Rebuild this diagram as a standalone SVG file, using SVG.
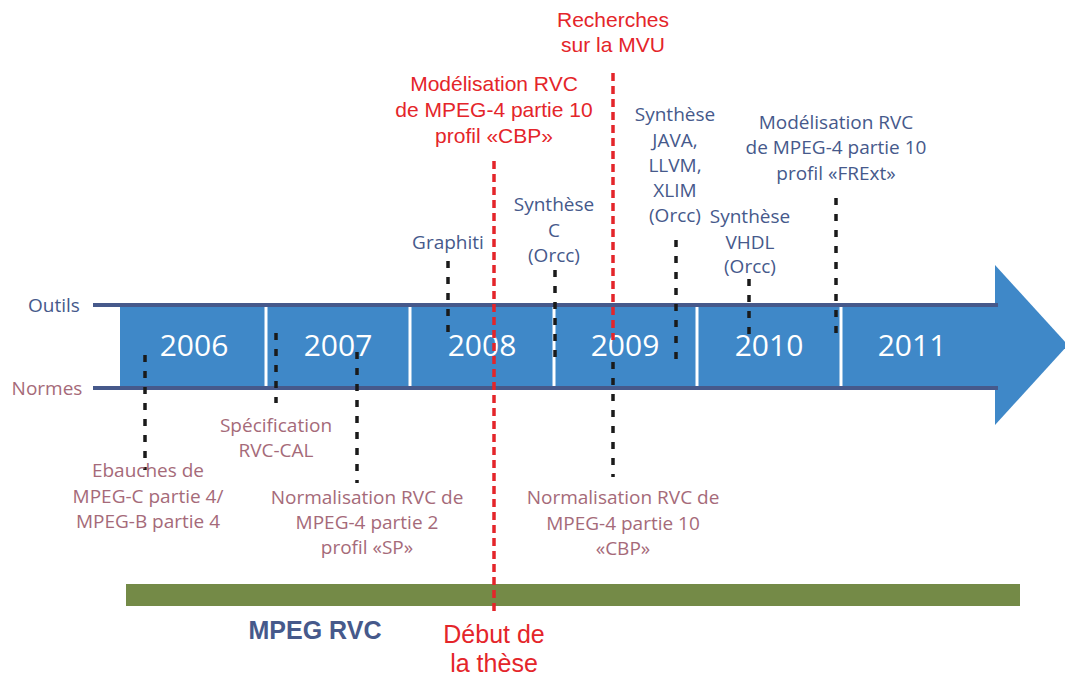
<svg xmlns="http://www.w3.org/2000/svg" width="1065" height="675" viewBox="0 0 1065 675">
<style>
.yr{font-family:"Open Sans",sans-serif;font-size:30px;fill:#fff;text-anchor:middle}
.bl{font-family:"Open Sans",sans-serif;font-size:19px;fill:#46598B;text-anchor:middle}
.mv{font-family:"Open Sans",sans-serif;font-size:19px;fill:#A56A79;text-anchor:middle}
.rd{font-family:"Liberation Sans",Arial,sans-serif;font-size:21px;fill:#E4252A;text-anchor:middle}
.rdb{font-family:"Liberation Sans",Arial,sans-serif;font-size:25px;fill:#E4252A;text-anchor:middle}
.dot{stroke:#1a1a1a;stroke-width:3.5;stroke-dasharray:7 9;fill:none}
.rdl{stroke:#E4252A;stroke-width:3.5;stroke-dasharray:8 5;fill:none}
.sep{stroke:#fff;stroke-width:3}
.axis{stroke:#46598B;stroke-width:4}
</style>
<rect width="1065" height="675" fill="#fff"/>
<g id="timeline">
<rect x="120" y="307" width="878" height="80" fill="#3F88C8"/>
<polygon points="995,265 1068,345 995,425" fill="#3F88C8"/>
<line class="axis" x1="93" y1="305" x2="998" y2="305"/>
<line class="axis" x1="93" y1="388" x2="998" y2="388"/>
<line class="sep" x1="266" y1="307" x2="266" y2="386"/>
<line class="sep" x1="410" y1="307" x2="410" y2="386"/>
<line class="sep" x1="554" y1="307" x2="554" y2="386"/>
<line class="sep" x1="697" y1="307" x2="697" y2="386"/>
<line class="sep" x1="841" y1="307" x2="841" y2="386"/>
<text class="yr" x="194" y="356">2006</text>
<text class="yr" x="338" y="356">2007</text>
<text class="yr" x="482" y="356">2008</text>
<text class="yr" x="625" y="356">2009</text>
<text class="yr" x="769" y="356">2010</text>
<text class="yr" x="912" y="356">2011</text>
</g>
<g id="axis-labels">
<text class="bl" x="54" y="312">Outils</text>
<text class="mv" x="47" y="395">Normes</text>
</g>
<g id="mpeg-rvc-bar">
<rect x="126" y="584" width="894" height="22" fill="#748A47"/>
<text x="315" y="639" font-family="Liberation Sans, Arial, sans-serif" font-weight="bold" font-size="25" fill="#46598B" text-anchor="middle">MPEG RVC</text>
</g>
<g id="connectors">
<line class="dot" x1="145" y1="355" x2="145" y2="470"/>
<line class="dot" x1="276" y1="333" x2="276" y2="403"/>
<line class="dot" x1="357" y1="352" x2="357" y2="483"/>
<line class="dot" x1="448" y1="261" x2="448" y2="338"/>
<line class="dot" x1="555" y1="270" x2="555" y2="358"/>
<line class="dot" x1="676" y1="240" x2="676" y2="364"/>
<line class="dot" x1="749" y1="279" x2="749" y2="338"/>
<line class="dot" x1="836" y1="198" x2="836" y2="342"/>
<line class="dot" x1="613" y1="362" x2="613" y2="477"/>
<line class="rdl" x1="494" y1="161" x2="494" y2="612"/>
<line class="rdl" x1="613" y1="73" x2="613" y2="340"/>
</g>
<g id="recherches-mvu">
<text class="rd" x="613" y="27">Recherches</text>
<text class="rd" x="613" y="52">sur la MVU</text>
</g>
<g id="modelisation-cbp">
<text class="rd" x="494" y="91">Modélisation RVC</text>
<text class="rd" x="494" y="117">de MPEG-4 partie 10</text>
<text class="rd" x="494" y="143">profil «CBP»</text>
</g>
<g id="debut-these">
<text class="rdb" x="494" y="643">Début de</text>
<text class="rdb" x="494" y="672">la thèse</text>
</g>
<g id="graphiti">
<text class="bl" x="448" y="249">Graphiti</text>
</g>
<g id="synthese-c">
<text class="bl" x="554" y="211">Synthèse</text>
<text class="bl" x="554" y="237">C</text>
<text class="bl" x="554" y="262">(Orcc)</text>
</g>
<g id="synthese-java">
<text class="bl" x="675" y="121">Synthèse</text>
<text class="bl" x="675" y="147">JAVA,</text>
<text class="bl" x="675" y="172">LLVM,</text>
<text class="bl" x="675" y="197">XLIM</text>
<text class="bl" x="675" y="222">(Orcc)</text>
</g>
<g id="synthese-vhdl">
<text class="bl" x="750" y="223">Synthèse</text>
<text class="bl" x="750" y="249">VHDL</text>
<text class="bl" x="750" y="273">(Orcc)</text>
</g>
<g id="modelisation-frext">
<text class="bl" x="836" y="129">Modélisation RVC</text>
<text class="bl" x="836" y="154">de MPEG-4 partie 10</text>
<text class="bl" x="836" y="180">profil «FRExt»</text>
</g>
<g id="specification">
<text class="mv" x="276" y="432">Spécification</text>
<text class="mv" x="276" y="457">RVC-CAL</text>
</g>
<g id="ebauches">
<text class="mv" x="148" y="477">Ebauches de</text>
<text class="mv" x="148" y="503">MPEG-C partie 4/</text>
<text class="mv" x="148" y="528">MPEG-B partie 4</text>
</g>
<g id="normalisation-sp">
<text class="mv" x="367" y="504">Normalisation RVC de</text>
<text class="mv" x="367" y="529">MPEG-4 partie 2</text>
<text class="mv" x="367" y="554">profil «SP»</text>
</g>
<g id="normalisation-cbp">
<text class="mv" x="623" y="504">Normalisation RVC de</text>
<text class="mv" x="623" y="530">MPEG-4 partie 10</text>
<text class="mv" x="623" y="555">«CBP»</text>
</g>
</svg>
